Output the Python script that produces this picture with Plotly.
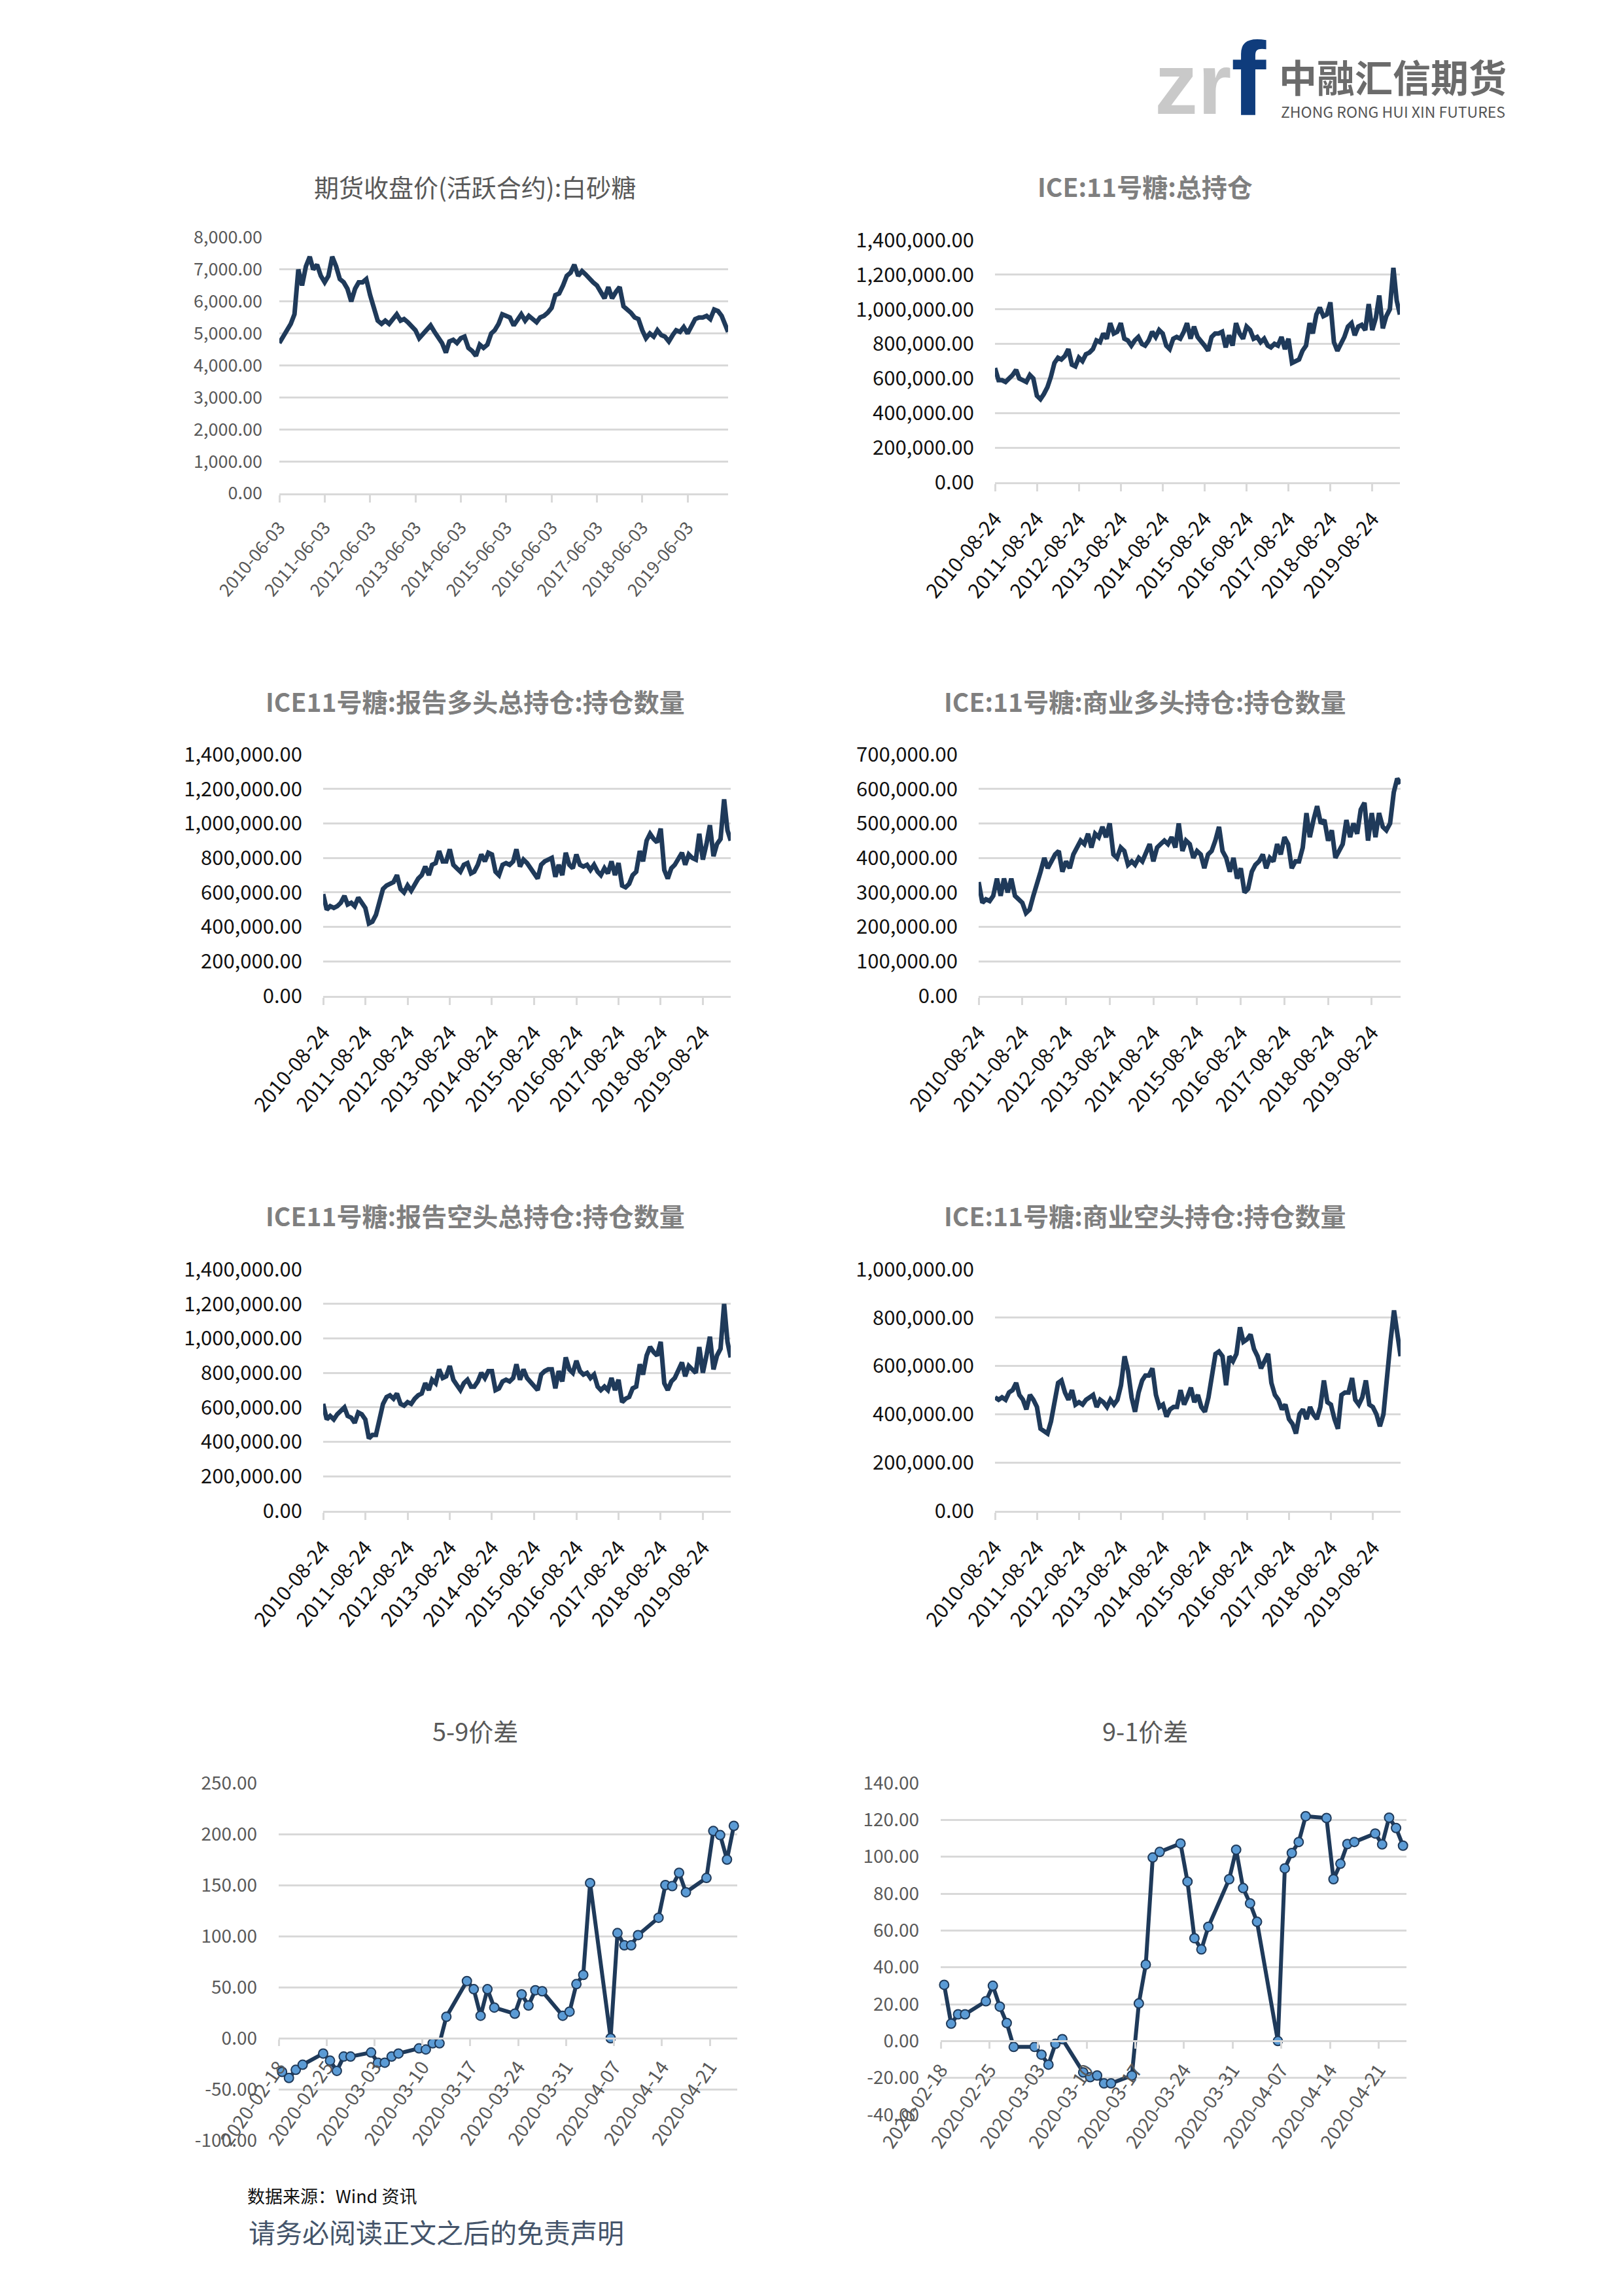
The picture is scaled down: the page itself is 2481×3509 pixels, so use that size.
import pandas as pd
import plotly.graph_objects as go

# ------------------------------------------------------------------ data
price_start, price_end = "2010-06-03", "2020-04-24"
sugar_close = [
    4700, 4900, 5050, 5300, 5600, 7000, 6500,                                   # 2010 Jun-Dec
    7100, 7400, 7000, 7150, 6800, 6600, 6800, 7400, 7100, 6700, 6600, 6400,     # 2011
    6000, 6400, 6600, 6600, 6700, 6200, 5800, 5400, 5300, 5400, 5300, 5450,     # 2012
    5600, 5400, 5450, 5350, 5200, 5100, 4850, 5000, 5150, 5250, 5050, 4900,     # 2013
    4700, 4400, 4750, 4800, 4700, 4850, 4900, 4550, 4450, 4300, 4650, 4550,     # 2014
    4650, 5000, 5100, 5300, 5600, 5550, 5500, 5250, 5400, 5600, 5400, 5550,     # 2015
    5450, 5350, 5500, 5550, 5650, 5800, 6200, 6250, 6500, 6800, 6900, 7150,     # 2016
    6800, 6950, 6850, 6700, 6600, 6500, 6300, 6100, 6450, 6100, 6300, 6450,     # 2017
    5850, 5750, 5650, 5500, 5450, 5100, 4850, 5000, 4900, 5100, 4950, 4900,     # 2018
    4750, 4950, 5100, 5050, 5200, 5000, 5250, 5450, 5500, 5500, 5550, 5450,     # 2019
    5750, 5700, 5550, 5050,                                                     # 2020 Jan-Mar, last
]

cot_start, cot_end = "2010-08-24", "2020-04-21"
# values in thousands of contracts (monthly readings, last = final report)
ice_total_oi_k = [
    660, 590, 590, 580, 600,
    620, 650, 600, 590, 580, 620, 600, 500, 480, 510, 550, 610,
    690, 720, 710, 730, 770, 680, 670, 720, 700, 740, 750, 770,
    820, 810, 860, 830, 920, 860, 870, 920, 830, 820, 790, 820,
    840, 800, 790, 820, 870, 840, 880, 860, 790, 770, 830, 840,
    830, 870, 920, 830, 900, 840, 820, 790, 760, 840, 860, 860,
    870, 780, 850, 790, 920, 860, 830, 900, 880, 830, 840, 810,
    830, 790, 780, 800, 790, 840, 770, 830, 690, 700, 710, 760,
    790, 920, 860, 970, 1010, 960, 970, 1040, 810, 760, 800, 840,
    900, 920, 850, 900, 910, 880, 1030, 880, 950, 1080, 890, 960,
    1000, 1240, 1050, 970,
]
ice_long_total_k = [
    590, 500, 520, 510, 520,
    540, 580, 530, 540, 520, 570, 540, 510, 420, 430, 470, 540,
    620, 640, 650, 660, 700, 620, 600, 640, 610, 650, 680, 700,
    750, 700, 760, 770, 840, 780, 780, 850, 760, 740, 720, 760,
    770, 710, 720, 760, 820, 780, 830, 820, 720, 700, 760, 770,
    760, 780, 850, 750, 790, 770, 740, 700, 680, 760, 780, 790,
    800, 690, 760, 700, 830, 760, 740, 820, 760, 750, 760, 730,
    760, 720, 700, 740, 710, 780, 700, 770, 640, 630, 650, 700,
    720, 840, 780, 900, 940, 910, 890, 970, 730, 680, 740, 760,
    800, 830, 760, 820, 800, 790, 940, 790, 880, 990, 810, 880,
    910, 1140, 960, 900,
]
ice_comm_long_k = [
    330, 270, 280, 275, 290,
    340, 290, 340, 300, 340, 290, 280, 270, 240, 250, 290, 320,
    360, 400, 370, 390, 410, 420, 360, 390, 370, 410, 430, 450,
    440, 470, 430, 470, 460, 490, 460, 500, 410, 400, 430, 420,
    380, 390, 380, 400, 390, 420, 440, 390, 430, 440, 450, 440,
    460, 430, 500, 420, 450, 440, 400, 420, 410, 370, 410, 420,
    450, 490, 420, 400, 360, 400, 340, 370, 300, 310, 360, 380,
    390, 410, 370, 400, 390, 440, 410, 460, 440, 370, 390, 390,
    430, 530, 460, 510, 550, 500, 510, 450, 480, 400, 420, 440,
    510, 460, 500, 470, 540, 560, 450, 530, 460, 530, 490, 480,
    500, 590, 630, 615,
]
ice_short_total_k = [
    620, 530, 550, 530, 560,
    580, 600, 550, 540, 510, 570, 560, 530, 420, 440, 440, 520,
    620, 660, 670, 650, 680, 620, 610, 630, 620, 650, 670, 680,
    740, 700, 760, 740, 820, 770, 780, 840, 760, 730, 700, 740,
    760, 720, 720, 750, 800, 770, 810, 810, 700, 710, 750, 760,
    750, 770, 850, 760, 820, 770, 750, 720, 700, 790, 810, 820,
    820, 710, 810, 750, 890, 820, 800, 870, 810, 790, 800, 770,
    790, 720, 700, 720, 700, 770, 700, 760, 630, 650, 660, 710,
    720, 850, 790, 900, 950, 920, 900, 980, 740, 700, 750, 770,
    820, 860, 780, 840, 820, 800, 950, 800, 900, 1010, 820, 900,
    940, 1200, 980, 890,
]
ice_comm_short_k = [
    470, 460, 470, 460, 490,
    500, 530, 480, 460, 420, 480, 460, 430, 340, 330, 320, 370,
    450, 530, 540, 490, 460, 500, 440, 450, 440, 460, 470, 480,
    430, 460, 450, 430, 460, 440, 460, 520, 640, 580, 470, 410,
    490, 540, 560, 560, 590, 480, 430, 440, 390, 420, 430, 430,
    500, 440, 470, 510, 450, 480, 430, 410, 470, 560, 650, 660,
    640, 520, 640, 620, 650, 760, 700, 710, 730, 670, 640, 590,
    620, 650, 530, 480, 460, 420, 440, 380, 360, 320, 400, 420,
    380, 430, 400, 380, 430, 540, 450, 440, 380, 340, 480, 490,
    490, 550, 460, 440, 470, 540, 440, 430, 400, 350, 400, 560,
    700, 830, 740, 640,
]

spread_dates = [
    "2020-02-18", "2020-02-19", "2020-02-20", "2020-02-21",
    "2020-02-24", "2020-02-25", "2020-02-26", "2020-02-27", "2020-02-28",
    "2020-03-02", "2020-03-03", "2020-03-04", "2020-03-05", "2020-03-06",
    "2020-03-09", "2020-03-10", "2020-03-11", "2020-03-12", "2020-03-13",
    "2020-03-16", "2020-03-17", "2020-03-18", "2020-03-19", "2020-03-20",
    "2020-03-23", "2020-03-24", "2020-03-25", "2020-03-26", "2020-03-27",
    "2020-03-30", "2020-03-31", "2020-04-01", "2020-04-02", "2020-04-03",
    "2020-04-06", "2020-04-07", "2020-04-08", "2020-04-09", "2020-04-10",
    "2020-04-13", "2020-04-14", "2020-04-15", "2020-04-16", "2020-04-17",
    "2020-04-20", "2020-04-21", "2020-04-22", "2020-04-23", "2020-04-24",
]
spread_5_9 = [
    -33, -39, -31, -26,
    -15, -22, -32, -18, -18,
    -14, -24, -24, -18, -15,
    -10, -11, -5, -5, 21,
    56, 48, 22, 48, 30,
    24, 43, 32, 47, 46,
    22, 26, 53, 62, 152,
    0, 103, 91, 91, 101,
    118, 150, 149, 162, 143,
    157, 203, 199, 175, 208,
]
spread_9_1 = [
    30.5, 9.4, 14.5, 14.5,
    21.6, 30, 18.7, 9.8, -3.2,
    -3.2, -7.4, -12.8, -1.5, 1,
    -17, -19.6, -18.7, -23, -23,
    -18.7, 20.4, 41.5, 99.6, 102.6,
    107.2, 86.5, 55.8, 49.7, 62,
    87.8, 103.8, 83, 74.7, 64.7,
    0, 93.7, 102, 108, 122,
    121, 87.8, 96.2, 106.9, 108,
    112.6, 106.7, 121.2, 115.6, 106,
]

price_ticks = ["2010-06-03", "2011-06-03", "2012-06-03", "2013-06-03", "2014-06-03",
               "2015-06-03", "2016-06-03", "2017-06-03", "2018-06-03", "2019-06-03"]
cot_ticks = ["2010-08-24", "2011-08-24", "2012-08-24", "2013-08-24", "2014-08-24",
             "2015-08-24", "2016-08-24", "2017-08-24", "2018-08-24", "2019-08-24"]
spread_ticks = ["2020-02-18", "2020-02-25", "2020-03-03", "2020-03-10", "2020-03-17",
                "2020-03-24", "2020-03-31", "2020-04-07", "2020-04-14", "2020-04-21"]
spread59_yticks = [-100, -50, 0, 50, 100, 150, 200, 250]
spread91_yticks = [-40, -20, 0, 20, 40, 60, 80, 100, 120, 140]

titles = [
    "期货收盘价(活跃合约):白砂糖",
    "ICE:11号糖:总持仓",
    "ICE11号糖:报告多头总持仓:持仓数量",
    "ICE:11号糖:商业多头持仓:持仓数量",
    "ICE11号糖:报告空头总持仓:持仓数量",
    "ICE:11号糖:商业空头持仓:持仓数量",
    "5-9价差",
    "9-1价差",
]

# ------------------------------------------------------------------ style
W, H = 2481, 3509
FONT = "Noto Sans CJK SC"
LINE = "#1f3a5a"
MARK = "#5b9bd5"
GRID = "#d9d9d9"
GRAY = "#595959"


def px_x(x0, x1):
    return [x0 / W, x1 / W]


def px_y(top, bottom):
    return [1 - bottom / H, 1 - top / H]


def monthly_dates(start, end, n):
    d = list(pd.date_range(start, periods=n - 1, freq=pd.DateOffset(months=1)))
    return d + [pd.Timestamp(end)]


fig = go.Figure()

# panel geometry (pixels): x0, x1, top, bottom
panels = [
    (427, 1113, 363, 754),
    (1521, 2140, 367, 737),
    (494, 1117, 1153, 1522),
    (1496, 2141, 1153, 1522),
    (494, 1117, 1940, 2309),
    (1521, 2141, 1940, 2309),
    (426, 1127, 2725, 3271),
    (1438, 2150, 2725, 3232),
]

series = [
    (monthly_dates(price_start, price_end, len(sugar_close)), sugar_close),
    (monthly_dates(cot_start, cot_end, len(ice_total_oi_k)), [v * 1000 for v in ice_total_oi_k]),
    (monthly_dates(cot_start, cot_end, len(ice_long_total_k)), [v * 1000 for v in ice_long_total_k]),
    (monthly_dates(cot_start, cot_end, len(ice_comm_long_k)), [v * 1000 for v in ice_comm_long_k]),
    (monthly_dates(cot_start, cot_end, len(ice_short_total_k)), [v * 1000 for v in ice_short_total_k]),
    (monthly_dates(cot_start, cot_end, len(ice_comm_short_k)), [v * 1000 for v in ice_comm_short_k]),
]
yranges = [(0, 8000, 1000), (0, 1400000, 200000), (0, 1400000, 200000), (0, 700000, 100000),
           (0, 1400000, 200000), (0, 1000000, 200000)]

layout = dict(
    width=W, height=H, margin=dict(l=0, r=0, t=0, b=0, pad=0, autoexpand=False),
    paper_bgcolor="white", plot_bgcolor="white", showlegend=False,
    font=dict(family=FONT, color=GRAY),
)

for i in range(8):
    n = i + 1
    xk = "xaxis" if n == 1 else f"xaxis{n}"
    yk = "yaxis" if n == 1 else f"yaxis{n}"
    xr = "x" if n == 1 else f"x{n}"
    yr = "y" if n == 1 else f"y{n}"
    x0, x1, top, bottom = panels[i]
    xdom = px_x(x0, x1)
    ydom = px_y(top, bottom)

    if i < 6:
        if i == 0:
            tfont = dict(family=FONT, size=27, color=GRAY)
        else:
            tfont = dict(family=FONT, size=31, color="#111111")
        dates, vals = series[i]
        ticks = price_ticks if i == 0 else cot_ticks
        start, end = (price_start, price_end) if i == 0 else (cot_start, cot_end)
        fig.add_trace(go.Scatter(x=dates, y=vals, mode="lines", xaxis=xr, yaxis=yr,
                                 line=dict(color=LINE, width=7)))
        lo, hi, dt = yranges[i]
        layout[xk] = dict(domain=xdom, anchor=yr, type="date", range=[start, end],
                          tickmode="array", tickvals=ticks, ticktext=ticks, tickangle=-50,
                          ticks="outside", ticklen=11, tickwidth=2.5, tickcolor=GRID,
                          showline=True, linecolor=GRID, linewidth=2.5, showgrid=False,
                          zeroline=False, automargin=False, ticklabelstandoff=12,
                          tickfont=tfont)
        layout[yk] = dict(domain=ydom, anchor=xr, range=[lo, hi], dtick=dt, tick0=0,
                          tickformat=",.2f", showgrid=True, gridcolor=GRID, gridwidth=2.5,
                          zeroline=False, showline=False, ticks="", automargin=False,
                          ticklabelstandoff=25 if i == 0 else 31,
                          tickfont=tfont)
    else:
        vals = spread_5_9 if i == 6 else spread_9_1
        yt = spread59_yticks if i == 6 else spread91_yticks
        lo, hi = yt[0], yt[-1]
        pos = ydom[0] + (0 - lo) / (hi - lo) * (ydom[1] - ydom[0])
        fig.add_trace(go.Scatter(x=spread_dates, y=vals, mode="lines+markers",
                                 xaxis=xr, yaxis=yr, xperiod=86400000, xperiodalignment="middle",
                                 line=dict(color=LINE, width=6),
                                 marker=dict(size=14, color=MARK, line=dict(color=LINE, width=2)),
                                 cliponaxis=False))
        layout[xk] = dict(domain=xdom, anchor="free", position=pos, type="date",
                          range=[spread_dates[0], "2020-04-25"],
                          tickmode="array", tickvals=spread_ticks, ticktext=spread_ticks,
                          tickangle=-55, ticks="outside", ticklen=10, tickwidth=2.5,
                          tickcolor=GRID, showline=True, linecolor=GRID, linewidth=2.5,
                          showgrid=False, zeroline=False, automargin=False,
                          ticklabelstandoff=4,
                          tickfont=dict(family=FONT, size=29, color=GRAY))
        layout[yk] = dict(domain=ydom, anchor=xr, range=[lo, hi], tickmode="array",
                          tickvals=yt, ticktext=[f"{v:.2f}" for v in yt],
                          showgrid=True, gridcolor=GRID, gridwidth=2.5, zeroline=False,
                          showline=False, ticks="", ticklabelstandoff=32, automargin=False,
                          tickfont=dict(family=FONT, size=28, color=GRAY))

fig.update_layout(**layout)

# ------------------------------------------------------------------ titles
title_pos = [(726, 284), (1750, 284), (726, 1071), (1750, 1071),
             (726, 1857), (1750, 1857), (726, 2644), (1750, 2644)]
anns = []
for i, (t, (cx, cy)) in enumerate(zip(titles, title_pos)):
    bold = 1 <= i <= 5
    anns.append(dict(
        text=f"<b>{t}</b>" if bold else t, x=cx / W, y=1 - cy / H, xref="paper", yref="paper",
        xanchor="center", yanchor="middle", showarrow=False,
        font=dict(family=FONT, size=39 if bold else 38, color="#7f7f7f" if bold else GRAY)))

# logo
anns += [
    dict(text="<b>zr</b>", x=1763 / W, y=1 - 204 / H, xref="paper", yref="paper",
         xanchor="left", yanchor="bottom", showarrow=False,
         font=dict(family="Liberation Sans", size=132, color="#c9c9c9")),
    dict(text="<b>f</b>", x=1880 / W, y=1 - 212 / H, xref="paper", yref="paper",
         xanchor="left", yanchor="bottom", showarrow=False,
         font=dict(family="Liberation Sans", size=160, color="#0f3c7c")),
    dict(text="<b>中融汇信期货</b>", x=1953 / W, y=1 - 116 / H, xref="paper", yref="paper",
         xanchor="left", yanchor="middle", showarrow=False,
         font=dict(family=FONT, size=58, color="#6b6b6b")),
    dict(text="ZHONG RONG HUI XIN FUTURES", x=1956 / W, y=1 - 170 / H, xref="paper", yref="paper",
         xanchor="left", yanchor="middle", showarrow=False,
         font=dict(family=FONT, size=23, color="#555555")),
    dict(text="数据来源：Wind 资讯", x=376 / W, y=1 - 3355 / H, xref="paper", yref="paper",
         xanchor="left", yanchor="middle", showarrow=False,
         font=dict(family=FONT, size=27, color="#111111")),
    dict(text="请务必阅读正文之后的免责声明", x=378 / W, y=1 - 3410 / H, xref="paper", yref="paper",
         xanchor="left", yanchor="middle", showarrow=False,
         font=dict(family=FONT, size=41, color="#44546a")),
]
fig.update_layout(annotations=anns)

fig.write_html("out.html", config={"displayModeBar": False},
               post_script="document.body.style.margin='0';")
